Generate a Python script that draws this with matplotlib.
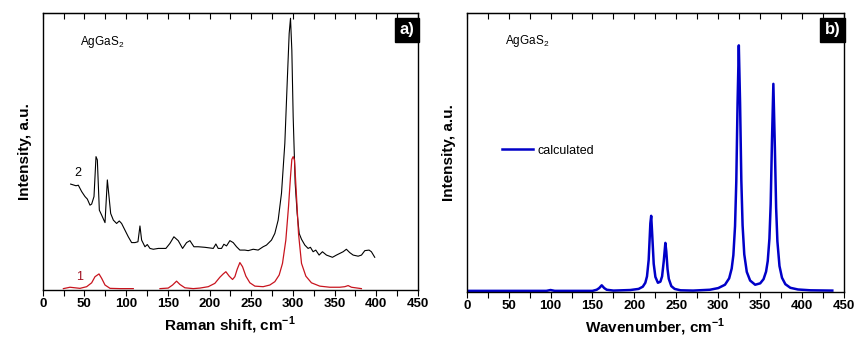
import matplotlib
matplotlib.use('Agg')
import matplotlib.pyplot as plt
import numpy as np

plt.rcParams['font.family'] = ['Liberation Sans', 'DejaVu Sans']
plt.rcParams['mathtext.fontset'] = 'custom'
plt.rcParams['mathtext.rm'] = 'Liberation Sans'
plt.rcParams['mathtext.bf'] = 'Liberation Sans:bold'

# panel a) measured Raman spectra (read off the picture)
raman2_x = [33.5, 39.9, 42.7, 46.7, 50.7, 53.5, 56.7, 58.7, 61.5, 63.9, 65.5, 67.9, 70.7, 74.7,
            77.5, 79.1, 81.5, 84.7, 88.6, 91.8, 94.6, 98.6, 102.6, 106.6, 110.6, 114.2, 116.6,
            118.6, 122.6, 125.4, 128.6, 132.6, 138.6, 147.7, 152.5, 157.3, 162.5, 167.7, 172.5,
            176.5, 181.3, 186.5, 194.5, 204.5, 207.6, 210.4, 214.4, 217.2, 220.4, 224.4, 228.4,
            232.4, 236.4, 242.4, 246.4, 252.4, 258.3, 264.3, 268.3, 274.3, 278.3, 282.3, 286.3,
            290.3, 293.1, 295.5, 297.1, 298.7, 300.3, 302.7, 305.1, 307.5, 310.3, 314.3, 318.2,
            321.0, 324.2, 327.4, 331.4, 335.4, 340.2, 347.4, 352.2, 360.2, 364.1, 368.1, 372.2,
            378.2, 382.2, 386.2, 391.3, 394.1, 398.1]
raman2_y = [38.2, 37.6, 37.8, 35.5, 33.7, 32.8, 30.6, 31.0, 33.7, 48.1, 46.9, 28.8, 27.0, 24.3,
            39.7, 34.9, 27.6, 25.2, 24.0, 24.9, 24.0, 21.6, 19.2, 17.1, 17.1, 17.4, 23.1,
            18.0, 15.6, 16.4, 15.0, 14.7, 15.0, 15.0, 16.8, 19.2, 17.8, 15.0, 17.1,
            17.8, 15.6, 15.6, 15.4, 15.0, 16.6, 15.0, 15.0, 16.5, 15.9, 17.8, 17.1,
            15.6, 14.4, 14.4, 14.2, 14.7, 14.4, 15.6, 16.2, 18.0, 20.4, 25.2, 34.9,
            52.9, 74.5, 92.5, 98.0, 86.5, 62.5, 38.5, 27.6, 20.4, 18.3, 16.2, 15.0,
            15.4, 13.8, 14.4, 12.6, 13.8, 12.6, 11.8, 12.6, 13.8, 14.7, 13.5, 12.6,
            12.2, 12.6, 14.2, 14.4, 13.8, 11.8]

raman1_x = [24.8, 32.7, 44.7, 52.7, 58.7, 62.7, 67.5, 70.7, 74.7, 80.7, 92.6, 108.6, np.nan,
            140.6, 150.5, 155.7, 160.5, 164.5, 170.5, 180.5, 188.5, 198.5, 206.4, 212.4, 216.4,
            219.6, 223.6, 227.6, 230.4, 233.2, 236.4, 239.6, 243.6, 248.4, 254.4, 264.3, 272.3,
            278.3, 283.5, 287.5, 291.5, 294.7, 297.1, 298.7, 300.3, 301.9, 304.3, 306.7, 310.3,
            315.5, 322.2, 332.2, 344.2, 356.2, 362.2, 366.2, 370.2, 382.1]
raman1_y = [0.5, 1.0, 0.6, 1.2, 2.6, 4.8, 5.8, 4.2, 1.8, 0.6, 0.5, 0.5, np.nan,
            0.5, 0.7, 1.8, 3.2, 2.0, 0.8, 0.5, 0.7, 1.2, 2.4, 4.6, 5.8,
            6.6, 5.0, 3.8, 4.8, 7.5, 9.9, 8.4, 5.0, 2.6, 1.4, 1.2, 1.8,
            3.0, 5.4, 9.6, 18.0, 30.0, 40.9, 47.1, 48.1, 46.9, 33.7, 20.4, 9.6,
            5.0, 2.6, 1.4, 1.0, 1.0, 1.2, 1.6, 1.0, 0.5]

# panel b) calculated spectrum
calc_x = [0, 50, 95, 100, 105, 150, 155, 158, 161, 164, 167, 175, 195, 205, 210, 213, 215, 217,
          219, 220, 221, 223, 225, 228, 231, 233, 235, 236.9, 238, 239.5, 241, 244, 248, 255,
          270, 290, 300, 308, 313, 316, 318, 320, 321.5, 323, 324.5, 326, 327.5, 329, 331, 334,
          338, 344, 350, 354, 357, 359, 361, 362.5, 364, 365.7, 367.5, 369, 370.5, 373, 376,
          380, 386, 395, 410, 436]
calc_y = [0.3, 0.3, 0.3, 0.6, 0.3, 0.3, 0.7, 1.3, 2.3, 1.3, 0.7, 0.4, 0.6, 1.0, 1.8, 3.2, 5.5, 11.4,
          24.5, 27.2, 21.7, 10.0, 5.3, 3.2, 3.6, 5.5, 11.0, 17.5, 14.5, 8.1, 4.6, 2.0, 1.0, 0.5,
          0.4, 0.7, 1.3, 2.5, 4.8, 8.3, 13.1, 23.5, 39.6, 67.4, 88.3, 67.7, 39.9, 23.8, 13.4, 7.1,
          4.0, 2.5, 3.0, 4.5, 7.2, 11.0, 19.0, 31.4, 53.5, 74.5, 51.6, 30.1, 18.1, 9.2, 5.0,
          2.7, 1.4, 0.8, 0.5, 0.4]

fig = plt.figure(figsize=(8.68, 3.39), dpi=100)
ax1 = fig.add_axes([0.0492, 0.1445, 0.4324, 0.818])
ax2 = fig.add_axes([0.5377, 0.1395, 0.4347, 0.823])

ax1.plot(raman2_x, raman2_y, color='black', lw=0.8)
ax1.plot(raman1_x, raman1_y, color='#c8141e', lw=0.9)
ax2.plot(calc_x, calc_y, color='#0000c8', lw=1.8, label='calculated')

for ax, lab, tag in [(ax1, 'Raman shift, cm', 'a)'), (ax2, 'Wavenumber, cm', 'b)')]:
    ax.set_xlim(0, 450)
    ax.set_ylim(0, 100)
    ax.set_xticks(np.arange(0, 451, 50))
    ax.set_xticks(np.arange(25, 450, 50), minor=True)
    ax.set_yticks([])
    ax.tick_params(axis='x', which='both', direction='out', length=4, width=0.8,
                   labelsize=9.5, pad=2)
    for t in ax.get_xticklabels():
        t.set_fontweight('bold')
    top = ax.secondary_xaxis('top')
    top.set_xticks(np.arange(0, 451, 50))
    top.set_xticks(np.arange(25, 450, 50), minor=True)
    top.tick_params(axis='x', which='both', direction='in', length=4, width=0.8, labeltop=False)
    for s in ax.spines.values():
        s.set_linewidth(1.0)
    ax.set_xlabel(lab + r'$^{\mathbf{-1}}$', fontsize=11, fontweight='bold', labelpad=3)
    ax.set_ylabel('Intensity, a.u.', fontsize=11, fontweight='bold', labelpad=8)
    ax.text(0.99, 0.965, tag, transform=ax.transAxes, ha='right', va='top', color='white',
            fontsize=12, fontweight='bold',
            bbox=dict(boxstyle='square,pad=0.28', fc='black', ec='black'))

ax1.text(44.7, 88.3, r'AgGaS$_2$', fontsize=8.5)
ax2.text(46, 88.8, r'AgGaS$_2$', fontsize=8.5)
ax1.text(41.5, 42.3, '2', fontsize=9, ha='center', va='center')
ax1.text(44.7, 4.8, '1', fontsize=9, ha='center', va='center', color='#a01020')

ax2.legend(loc='center left', bbox_to_anchor=(0.0936, 0.505), frameon=False, fontsize=9,
           handlelength=2.5, handletextpad=0.3, borderaxespad=0, borderpad=0)

fig.savefig('out.png', dpi=100)
